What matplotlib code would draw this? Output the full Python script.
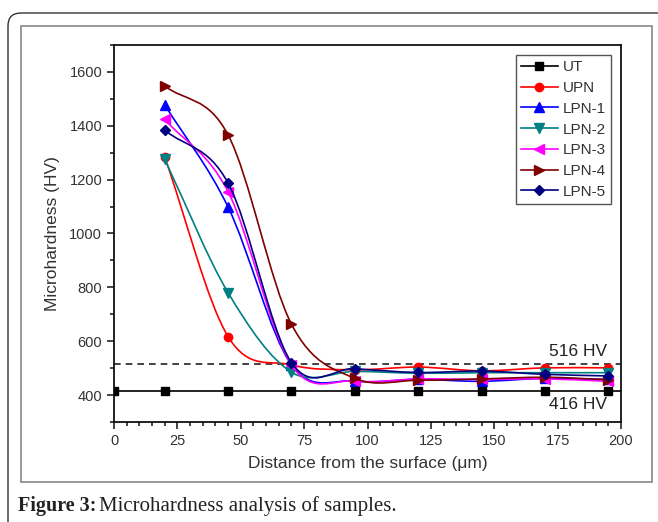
import numpy as np
import matplotlib
matplotlib.use("Agg")
import matplotlib.pyplot as plt
from matplotlib.path import Path
from matplotlib.patches import PathPatch, FancyBboxPatch, Rectangle
from matplotlib.lines import Line2D

plt.rcParams['font.family'] = ['Liberation Sans', 'DejaVu Sans']

# depth in micrometres
depth = [20, 45, 70, 95, 120, 145, 170, 195]
depth_ut = [0, 20, 45, 70, 95, 120, 145, 170, 195]

labels = ['UT', 'UPN', 'LPN-1', 'LPN-2', 'LPN-3', 'LPN-4', 'LPN-5']
hardness = {
    'UT':    [416, 416, 416, 416, 416, 416, 416, 416, 416],
    'UPN':   [1284, 617, 512, 494, 504, 490, 501, 501],
    'LPN-1': [1478, 1098, 512, 452, 458, 451, 462, 458],
    'LPN-2': [1275, 780, 485, 488, 481, 483, 483, 483],
    'LPN-3': [1424, 1155, 512, 452, 460, 458, 460, 451],
    'LPN-4': [1548, 1366, 663, 462, 455, 460, 466, 457],
    'LPN-5': [1384, 1187, 520, 498, 484, 489, 477, 471],
}
colors = ['black', '#ff0000', '#0000ff', '#008080', '#ff00ff', '#800000', '#000080']
markers = ['s', 'o', '^', 'v', '<', '>', 'D']
msizes = [6, 6, 6.5, 6.5, 6.5, 6.5, 5.5]

ref_hv = [516, 416]


def smooth_path(xs, ys):
    # Catmull-Rom style curve through the points, drawn as cubic Beziers
    x = np.asarray(xs, float)
    y = np.asarray(ys, float)
    mx, my = np.gradient(x), np.gradient(y)
    verts = [(x[0], y[0])]
    codes = [Path.MOVETO]
    for i in range(len(x) - 1):
        verts += [(x[i] + mx[i] / 3, y[i] + my[i] / 3),
                  (x[i + 1] - mx[i + 1] / 3, y[i + 1] - my[i + 1] / 3),
                  (x[i + 1], y[i + 1])]
        codes += [Path.CURVE4] * 3
    return Path(verts, codes)


fig = plt.figure(figsize=(6.58, 5.22), dpi=100)
ax = fig.add_axes([0.1733, 0.1916, 0.7705, 0.7222])

ax.axhline(ref_hv[0], color='#222222', lw=1.2, ls=(0, (4, 3)), zorder=1)

handles = []
for i, name in enumerate(labels):
    vals = hardness[name]
    xs = depth_ut if name == 'UT' else depth
    if name == 'UT':
        ax.plot([0, 200], [ref_hv[1], ref_hv[1]], color=colors[i], lw=1.2, zorder=9)
    else:
        ax.add_patch(PathPatch(smooth_path(xs, vals), fill=False,
                               edgecolor=colors[i], lw=1.2, zorder=2 + i))
    ax.plot(xs, vals, ls='none', marker=markers[i], ms=msizes[i],
            color=colors[i], zorder=3 + i + (8 if name == 'UT' else 0))
    handles.append(Line2D([], [], color=colors[i], lw=1.2,
                          marker=markers[i], ms=msizes[i]))

ax.text(194.5, 534, '516 HV', ha='right', va='bottom', fontsize=12.5, color='#222222')
ax.text(194.5, 393, '416 HV', ha='right', va='top', fontsize=12.5, color='#222222')

ax.set_xlim(0, 200)
ax.set_ylim(300, 1700)
ax.set_xticks(np.arange(0, 201, 25))
ax.set_xticks(np.arange(0, 201, 5), minor=True)
ax.set_yticks(np.arange(400, 1601, 200))
ax.set_yticks(np.arange(300, 1701, 100), minor=True)
ax.tick_params(which='both', direction='out', width=1.1, colors='#111111',
               labelcolor='#333333', labelsize=10.5)
ax.tick_params(which='major', length=5)
ax.tick_params(which='minor', length=3)
for s in ax.spines.values():
    s.set_linewidth(1.3)
    s.set_color('#111111')

ax.set_xlabel('Distance from the surface (μm)', fontsize=12.5, color='#333333', labelpad=6)
ax.set_ylabel('Microhardness (HV)', fontsize=12.5, color='#333333', labelpad=7)

leg = ax.legend(handles, labels, loc='upper right', bbox_to_anchor=(0.98, 0.9735),
                borderaxespad=0, fontsize=11, labelspacing=0.44, handlelength=2.4,
                handletextpad=0.3, borderpad=0.35, fancybox=False, framealpha=1)
leg.get_frame().set_edgecolor('#555555')
leg.get_frame().set_linewidth(1.0)
for t in leg.get_texts():
    t.set_color('#333333')

# outer page frame (rounded) and inner image frame
fig.patches.append(FancyBboxPatch((0.08, -1.0), 8.0, 6.09,
                                  boxstyle='round,pad=0,rounding_size=0.13',
                                  transform=fig.dpi_scale_trans, fill=False,
                                  edgecolor='#333333', lw=1.0))
fig.patches.append(Rectangle((0.21, 0.40), 6.31, 4.56, transform=fig.dpi_scale_trans,
                             fill=False, edgecolor='#888888', lw=1.2))

fig.text(0.18 / 6.58, 0.115 / 5.22, 'Figure 3:', fontsize=14.5, fontweight='bold',
         family='Liberation Serif', color='#222222', va='baseline')
fig.text(0.99 / 6.58, 0.115 / 5.22, 'Microhardness analysis of samples.', fontsize=15,
         family='Liberation Serif', color='#222222', va='baseline')

fig.savefig('out.png', dpi=100)
